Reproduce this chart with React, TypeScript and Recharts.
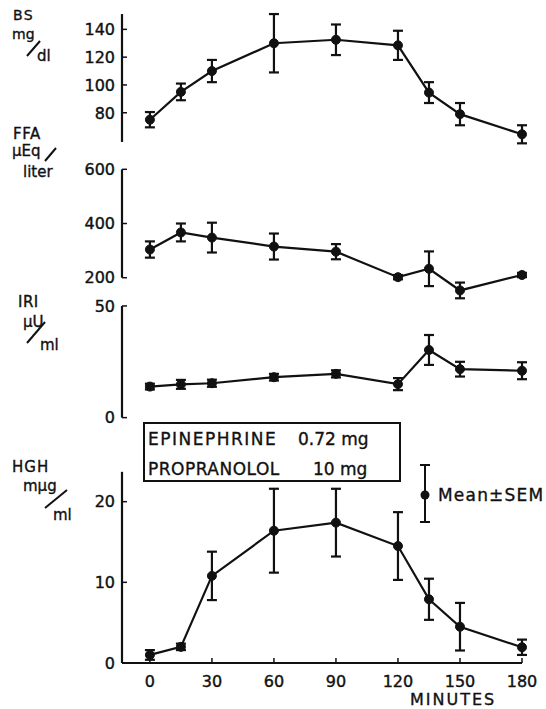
import React from 'react';
import { ComposedChart, Line, ErrorBar, XAxis, YAxis, ReferenceLine } from 'recharts';

// sampling times (minutes)
const minutes = [0, 15, 30, 60, 90, 120, 135, 150, 180];
const xTicks = [0, 30, 60, 90, 120, 150, 180];

// blood sugar, mg/dl
const bsMean = [75, 95, 110, 130, 132.5, 128.5, 94.5, 79, 64.5];
const bsSem = [5.5, 6, 8, 21, 11, 10.5, 7.5, 8, 6.5];
const bsTicks = [80, 100, 120, 140];

// free fatty acids, uEq/liter
const ffaMean = [304, 367, 348, 315, 296, 202, 233, 153, 210];
const ffaSem = [30, 33, 55, 48, 28, 8, 64, 29, 8];
const ffaTicks = [200, 400, 600];

// immunoreactive insulin, uU/ml
const iriMean = [13.9, 14.9, 15.4, 18.1, 19.6, 15.0, 30.3, 21.7, 21.0];
const iriSem = [1.3, 2, 1.6, 1.5, 1.6, 2.7, 6.7, 3.3, 3.8];
const iriTicks = [0, 50];

// growth hormone, mug/ml
const hghMean = [1.0, 2.0, 10.8, 16.4, 17.4, 14.5, 7.9, 4.5, 1.95];
const hghSem = [0.6, 0.4, 3.0, 5.2, 4.2, 4.2, 2.55, 2.95, 0.95];
const hghTicks = [0, 10, 20];

const INK = '#111';
const FONT = '"DejaVu Sans", sans-serif';
const X_DOMAIN: [number, number] = [-13.5, 180];

function YTick(props: any) {
  const { x, y, payload } = props;
  return (
    <g>
      <line x1={x} y1={y} x2={x + 5} y2={y} stroke={INK} strokeWidth={1.5} />
      <text x={x - 7} y={y} dy="0.36em" textAnchor="end" fontSize={16} fill={INK} stroke={INK}
        strokeWidth={0.4} fontFamily={FONT}>
        {payload.value}
      </text>
    </g>
  );
}

function XTick(props: any) {
  const { x, y, payload } = props;
  return (
    <g>
      <line x1={x} y1={y} x2={x} y2={y - 5} stroke={INK} strokeWidth={1.5} />
      <text x={x} y={y + 24} textAnchor="middle" fontSize={16} fill={INK} stroke={INK}
        strokeWidth={0.4} fontFamily={FONT}>
        {payload.value}
      </text>
    </g>
  );
}

interface PanelProps {
  top: number;
  height: number;
  marginTop: number;
  marginBottom: number;
  domain: [number, number];
  ticks: number[];
  axisFrom: number;
  axisTo: number;
  mean: number[];
  sem: number[];
  showX?: boolean;
}

function Panel({ top, height, marginTop, marginBottom, domain, ticks, axisFrom, axisTo, mean, sem, showX }: PanelProps) {
  const data = minutes.map((m, i) => ({ min: m, mean: mean[i], sem: sem[i] }));
  return (
    <div style={{ position: 'absolute', left: 0, top }}>
      <ComposedChart
        width={546}
        height={height}
        data={data}
        margin={{ top: marginTop, right: 24, bottom: marginBottom, left: 62 }}
      >
        <XAxis
          type="number"
          dataKey="min"
          domain={X_DOMAIN}
          ticks={xTicks}
          interval={0}
          hide={!showX}
          height={35}
          axisLine={{ stroke: INK, strokeWidth: 2 }}
          tickLine={false}
          tickSize={0}
          tickMargin={0}
          tick={<XTick />}
        />
        <YAxis
          type="number"
          domain={domain}
          ticks={ticks}
          interval={0}
          width={60}
          axisLine={false}
          tickLine={false}
          tickSize={0}
          tickMargin={0}
          tick={<YTick />}
        />
        <ReferenceLine
          segment={[{ x: X_DOMAIN[0], y: axisFrom }, { x: X_DOMAIN[0], y: axisTo }]}
          stroke={INK}
          strokeWidth={2.2}
          ifOverflow="visible"
        />
        <Line
          type="linear"
          dataKey="mean"
          stroke={INK}
          strokeWidth={2.2}
          dot={{ r: 4.5, fill: INK, stroke: INK, strokeWidth: 1 }}
          activeDot={false}
          isAnimationActive={false}
        >
          <ErrorBar dataKey="sem" width={5} stroke={INK} strokeWidth={2.2} direction="y" />
        </Line>
      </ComposedChart>
    </div>
  );
}

export default function App() {
  const txt = { fill: INK, stroke: INK, strokeWidth: 0.35, fontFamily: FONT };
  return (
    <div style={{ position: 'absolute', left: 0, top: 0, width: 546, height: 709, background: '#fff' }}>
      <Panel top={0} height={152} marginTop={8.5} marginBottom={4.5} domain={[55, 155]} ticks={bsTicks}
        axisFrom={59} axisTo={151} mean={bsMean} sem={bsSem} />
      <Panel top={150} height={160} marginTop={13.9} marginBottom={5.2} domain={[100, 620]} ticks={ffaTicks}
        axisFrom={200} axisTo={600} mean={ffaMean} sem={ffaSem} />
      <Panel top={295} height={132} marginTop={6.5} marginBottom={4.9} domain={[-2, 52]} ticks={iriTicks}
        axisFrom={0} axisTo={50} mean={iriMean} sem={iriSem} />
      <Panel top={455} height={243} marginTop={14.4} marginBottom={0} domain={[0, 24]} ticks={hghTicks}
        axisFrom={0} axisTo={23.7} mean={hghMean} sem={hghSem} showX />

      <svg width={546} height={709} style={{ position: 'absolute', left: 0, top: 0, pointerEvents: 'none' }}>
        {/* panel titles */}
        <text x={13} y={20} fontSize={14} letterSpacing={1.5} {...txt}>BS</text>
        <text x={12} y={39} fontSize={14} {...txt}>mg</text>
        <line x1={27} y1={56} x2={40} y2={41} stroke={INK} strokeWidth={2} />
        <text x={37} y={61} fontSize={15} {...txt}>dl</text>

        <text x={13} y={139} fontSize={15} letterSpacing={0.5} {...txt}>FFA</text>
        <text x={12} y={156} fontSize={15} {...txt}>μEq</text>
        <line x1={45} y1={161} x2={56} y2={148} stroke={INK} strokeWidth={2} />
        <text x={23} y={177} fontSize={15} {...txt}>liter</text>

        <text x={18} y={307} fontSize={15} letterSpacing={0.5} {...txt}>IRI</text>
        <text x={23} y={327} fontSize={15} {...txt}>μU</text>
        <line x1={27} y1={343} x2={45} y2={322} stroke={INK} strokeWidth={2} />
        <text x={40} y={350} fontSize={15} {...txt}>ml</text>

        <text x={12} y={472} fontSize={15} letterSpacing={1} {...txt}>HGH</text>
        <text x={23} y={491} fontSize={15} {...txt}>mμg</text>
        <line x1={45} y1={508} x2={67} y2={490} stroke={INK} strokeWidth={2} />
        <text x={53} y={520} fontSize={15} {...txt}>ml</text>

        {/* treatment box */}
        <rect x={144} y={423} width={256} height={58} fill="none" stroke={INK} strokeWidth={2} />
        <text x={148} y={445} fontSize={17} letterSpacing={1.5} {...txt}>EPINEPHRINE</text>
        <text x={298} y={445} fontSize={17} {...txt}>0.72 mg</text>
        <text x={148} y={475} fontSize={17} letterSpacing={0.5} {...txt}>PROPRANOLOL</text>
        <text x={313} y={475} fontSize={17} {...txt}>10 mg</text>

        {/* legend */}
        <line x1={425} y1={465} x2={425} y2={522} stroke={INK} strokeWidth={2} />
        <line x1={420} y1={465} x2={430} y2={465} stroke={INK} strokeWidth={2} />
        <line x1={420} y1={522} x2={430} y2={522} stroke={INK} strokeWidth={2} />
        <circle cx={425} cy={495} r={4.5} fill={INK} />
        <text x={438} y={501} fontSize={17} letterSpacing={1.2} {...txt}>Mean±SEM</text>

        <text x={410} y={705} fontSize={16} letterSpacing={2} {...txt}>MINUTES</text>
      </svg>
    </div>
  );
}
